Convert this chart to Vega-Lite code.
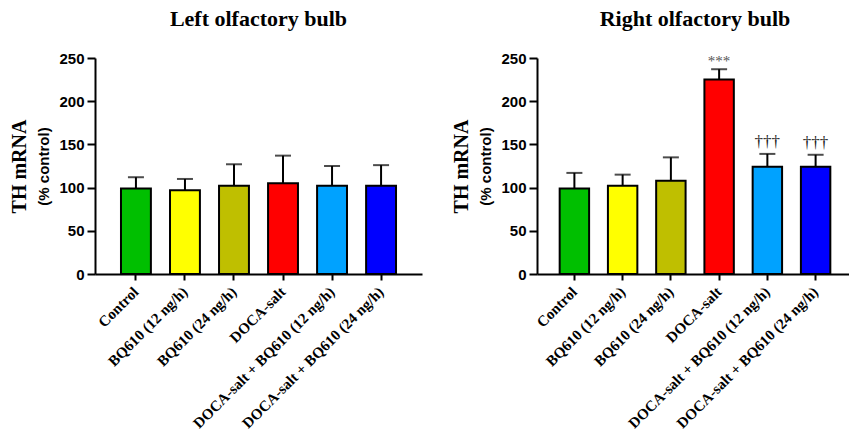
{
  "$schema": "https://vega.github.io/schema/vega-lite/v6.json",
  "padding": {"left": 9, "top": 8, "right": 0, "bottom": 0},
  "background": "white",
  "config": {"view": {"stroke": null}, "font": "Liberation Serif"},
  "datasets": {
    "left": [
      {"group": "Control", "mean": 99, "err": 112, "sig": ""},
      {"group": "BQ610 (12 ng/h)", "mean": 97, "err": 110, "sig": ""},
      {"group": "BQ610 (24 ng/h)", "mean": 102, "err": 127, "sig": ""},
      {"group": "DOCA-salt", "mean": 105, "err": 137, "sig": ""},
      {"group": "DOCA-salt + BQ610 (12 ng/h)", "mean": 102, "err": 125, "sig": ""},
      {"group": "DOCA-salt + BQ610 (24 ng/h)", "mean": 102, "err": 126, "sig": ""}
    ],
    "right": [
      {"group": "Control", "mean": 99, "err": 117, "sig": ""},
      {"group": "BQ610 (12 ng/h)", "mean": 102, "err": 115, "sig": ""},
      {"group": "BQ610 (24 ng/h)", "mean": 108, "err": 135, "sig": ""},
      {"group": "DOCA-salt", "mean": 225, "err": 237, "sig": "***"},
      {"group": "DOCA-salt + BQ610 (12 ng/h)", "mean": 124, "err": 139, "sig": "†††"},
      {"group": "DOCA-salt + BQ610 (24 ng/h)", "mean": 124, "err": 138, "sig": "†††"}
    ]
  },
  "spacing": 29,
  "hconcat": [
    {
      "title": {"text": "Left olfactory bulb", "font": "Liberation Serif", "fontSize": 22, "fontWeight": "bold", "anchor": "middle", "frame": "group", "color": "black", "offset": 20},
      "width": 327,
      "height": 216,
      "data": {"name": "left"},
      "encoding": {
        "x": {"field": "group", "type": "nominal", "sort": null,
          "scale": {"paddingInner": 0.39, "paddingOuter": 0.53},
          "axis": {"title": null, "labelAngle": -45, "labelAlign": "right", "labelBaseline": "middle", "labelFont": "Liberation Serif", "labelFontSize": 15, "labelFontWeight": "bold", "labelColor": "black", "labelLimit": 0, "labelPadding": 9, "domainColor": "black", "domainWidth": 2, "tickColor": "black", "tickWidth": 2, "tickSize": 6}}
      },
      "layer": [
        {"mark": {"type": "bar", "stroke": "black", "strokeWidth": 2},
         "encoding": {
           "y": {"field": "mean", "type": "quantitative", "scale": {"domain": [0, 250], "nice": false},
             "axis": {"title": "(% control)", "values": [0, 50, 100, 150, 200, 250], "grid": false, "labelFont": "Liberation Sans", "labelFontSize": 15, "labelFontWeight": "bold", "labelColor": "black", "labelPadding": 3, "tickSize": 8, "tickWidth": 2, "tickColor": "black", "domainColor": "black", "domainWidth": 2, "titleFont": "Liberation Sans", "titleFontSize": 15, "titleFontWeight": "bold", "titleColor": "black", "titlePadding": 7}},
           "color": {"field": "group", "type": "nominal", "legend": null,
             "scale": {"domain": ["Control", "BQ610 (12 ng/h)", "BQ610 (24 ng/h)", "DOCA-salt", "DOCA-salt + BQ610 (12 ng/h)", "DOCA-salt + BQ610 (24 ng/h)"],
               "range": ["#00BF00", "#FFFF00", "#BFBF00", "#FF0000", "#00A2FF", "#0000FF"]}}
         }},
        {"mark": {"type": "rule", "strokeWidth": 2, "color": "black"},
         "encoding": {
           "y": {"field": "mean", "type": "quantitative",
             "axis": {"orient": "left", "title": "TH mRNA", "labels": false, "ticks": false, "domain": false, "grid": false, "offset": 64, "titleFont": "Liberation Serif", "titleFontSize": 20, "titleFontWeight": "bold", "titleColor": "black", "titlePadding": 2}},
           "y2": {"field": "err"}
         }},
        {"mark": {"type": "tick", "orient": "horizontal", "size": 16, "thickness": 2, "color": "black"},
         "encoding": {"y": {"field": "err", "type": "quantitative", "axis": null}}}
      ],
      "resolve": {"axis": {"y": "independent"}}
    },
    {
      "title": {"text": "Right olfactory bulb", "font": "Liberation Serif", "fontSize": 22, "fontWeight": "bold", "anchor": "middle", "frame": "group", "color": "black", "offset": 20},
      "width": 316,
      "height": 216,
      "data": {"name": "right"},
      "encoding": {
        "x": {"field": "group", "type": "nominal", "sort": null,
          "scale": {"paddingInner": 0.39, "paddingOuter": 0.47},
          "axis": {"title": null, "labelAngle": -45, "labelAlign": "right", "labelBaseline": "middle", "labelFont": "Liberation Serif", "labelFontSize": 15, "labelFontWeight": "bold", "labelColor": "black", "labelLimit": 0, "labelPadding": 9, "domainColor": "black", "domainWidth": 2, "tickColor": "black", "tickWidth": 2, "tickSize": 6}}
      },
      "layer": [
        {"mark": {"type": "bar", "stroke": "black", "strokeWidth": 2},
         "encoding": {
           "y": {"field": "mean", "type": "quantitative", "scale": {"domain": [0, 250], "nice": false},
             "axis": {"title": "(% control)", "values": [0, 50, 100, 150, 200, 250], "grid": false, "labelFont": "Liberation Sans", "labelFontSize": 15, "labelFontWeight": "bold", "labelColor": "black", "labelPadding": 3, "tickSize": 8, "tickWidth": 2, "tickColor": "black", "domainColor": "black", "domainWidth": 2, "titleFont": "Liberation Sans", "titleFontSize": 15, "titleFontWeight": "bold", "titleColor": "black", "titlePadding": 7}},
           "color": {"field": "group", "type": "nominal", "legend": null}
         }},
        {"mark": {"type": "rule", "strokeWidth": 2, "color": "black"},
         "encoding": {
           "y": {"field": "mean", "type": "quantitative",
             "axis": {"orient": "left", "title": "TH mRNA", "labels": false, "ticks": false, "domain": false, "grid": false, "offset": 64, "titleFont": "Liberation Serif", "titleFontSize": 20, "titleFontWeight": "bold", "titleColor": "black", "titlePadding": 2}},
           "y2": {"field": "err"}
         }},
        {"mark": {"type": "tick", "orient": "horizontal", "size": 16, "thickness": 2, "color": "black"},
         "encoding": {"y": {"field": "err", "type": "quantitative", "axis": null}}},
        {"transform": [{"filter": "datum.sig === '***'"}],
         "mark": {"type": "text", "dy": -8, "fontSize": 15, "color": "#555555", "baseline": "middle", "font": "Liberation Serif"},
         "encoding": {"y": {"field": "err", "type": "quantitative", "axis": null}, "text": {"field": "sig"}}},
        {"transform": [{"filter": "datum.sig === '†††'"}],
         "mark": {"type": "text", "dy": -12, "fontSize": 17, "color": "#222222", "baseline": "middle", "font": "Liberation Serif"},
         "encoding": {"y": {"field": "err", "type": "quantitative", "axis": null}, "text": {"field": "sig"}}}
      ],
      "resolve": {"axis": {"y": "independent"}}
    }
  ]
}
